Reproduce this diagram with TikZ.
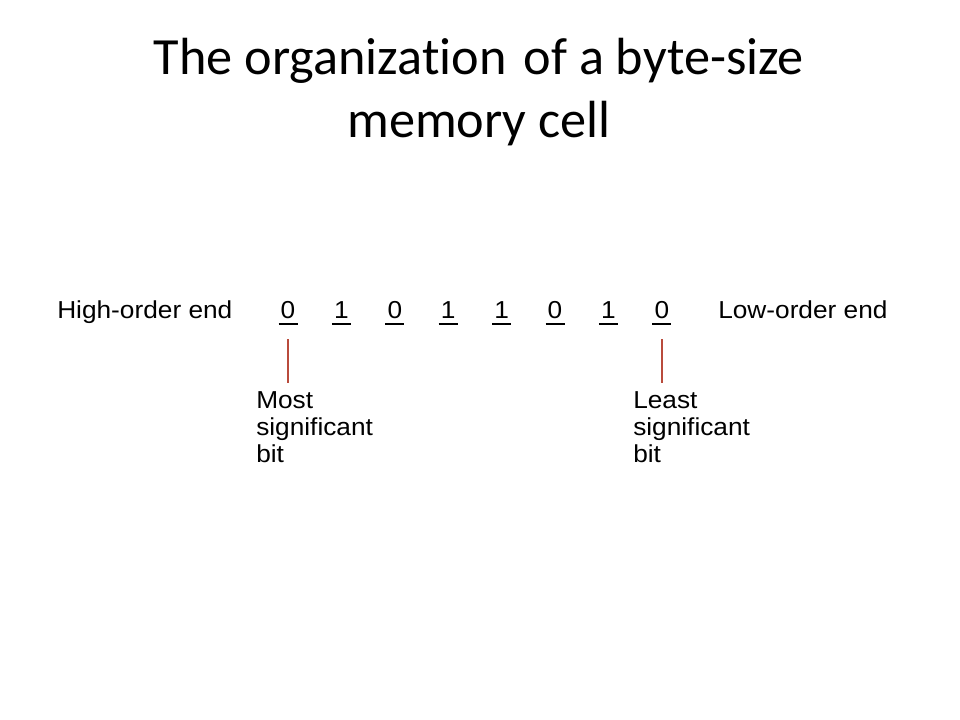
\documentclass[tikz,border=0pt]{standalone}
\usepackage{fontspec}
\usetikzlibrary{calc}
\newfontfamily\titlefont[Ligatures={NoCommon}]{Carlito}
\newfontfamily\bodyfont[FakeStretch=1.07]{Liberation Sans}
\definecolor{leadred}{RGB}{185,75,60}
\tikzset{
  titletext/.style={font=\titlefont\fontsize{39.2}{47.25}\selectfont, align=center, inner sep=0pt, anchor=base},
  bodytext/.style={font=\bodyfont\fontsize{18.4}{19.9}\selectfont, inner sep=0pt},
  bittext/.style={bodytext, anchor=base},
  labeltext/.style={bodytext, align=left, anchor=base west},
  bitline/.style={line width=1pt, black},
  leader/.style={line width=1.1pt, leadred}
}
\begin{document}
\begin{tikzpicture}[x=0.75pt,y=-0.75pt]
\useasboundingbox (0,0) rectangle (960,720);
% multi-line nodes: base anchor is at the last line's baseline
\node[titletext] (title) at (479,138) {The organization\kern4pt{} of a byte-size\\memory cell};
\node[labeltext] (high) at (57,319) {High-order end};
\node[labeltext] (low) at (718,319) {Low-order end};
\foreach \b [count=\i] in {0,1,0,1,1,0,1,0} {
  \node[bittext] (d\i) at ({288+53.4*(\i-1)},319) {\b};
  \draw[bitline] ($(d\i.base)+(-9.5,5)$) -- ($(d\i.base)+(9.5,5)$);
}
\node[labeltext] (msb) at (256,462) {Most\\significant\\bit};
\node[labeltext] (lsb) at (633,462) {Least\\significant\\bit};
\draw[leader] ($(d1.base)+(0,20)$) -- ($(msb.north -| d1.base)+(0,-9)$);
\draw[leader] ($(d8.base)+(0,20)$) -- ($(lsb.north -| d8.base)+(0,-9)$);
\end{tikzpicture}
\end{document}
